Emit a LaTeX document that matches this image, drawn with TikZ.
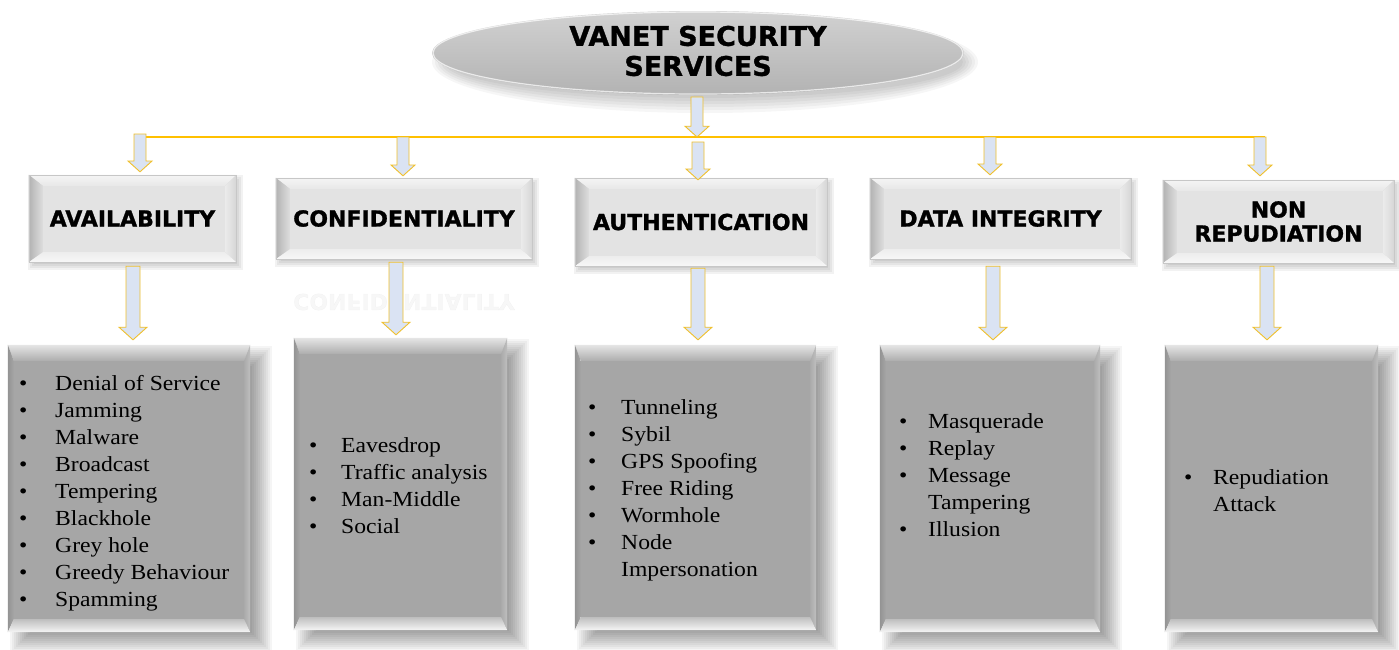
\documentclass[tikz,border=0pt]{standalone}
\usepackage{fontspec}
\setmainfont{Liberation Serif}[FakeStretch=1.1]
\newfontfamily\hdrfont{DejaVu Sans}[BoldFeatures={FakeBold=1.2}]
\usetikzlibrary{calc,backgrounds}

\definecolor{arrowfill}{HTML}{DAE3F3}
\definecolor{arrowedge}{HTML}{F0C02C}
\definecolor{busline}{HTML}{FFC000}
\definecolor{hdrface}{HTML}{E3E3E3}
\definecolor{listface}{HTML}{A6A6A6}

\tikzset{
  hdrbox/.style={rectangle, inner sep=0pt, align=center,
    font=\hdrfont\bfseries\fontsize{22}{24}\selectfont},
  titlebox/.style={inner sep=0pt, align=center,
    font=\hdrfont\bfseries\fontsize{27}{30}\selectfont},
  listbox/.style={rectangle, inner sep=0pt},
  listtext/.style={inner sep=0pt, anchor=base west,
    font=\fontsize{21.5}{27}\selectfont},
  blockarrow/.style={fill=arrowfill, draw=arrowedge, line width=0.9pt},
  bus/.style={draw=busline, line width=1.6pt},
}

% block arrow: #1 shaft half-width (pt), #2 tail point, #3 tip point
\newcommand\blockarrow[3]{%
  \path[blockarrow] let \p1=#2, \p2=#3 in
    ({\x1-#1pt},\y1) -- ({\x1+#1pt},\y1) -- ({\x1+#1pt},{\y2+1.8*#1pt})
    -- ({\x1+2*#1pt},{\y2+1.8*#1pt}) -- (\x1,\y2)
    -- ({\x1-2*#1pt},{\y2+1.8*#1pt}) -- ({\x1-#1pt},{\y2+1.8*#1pt}) -- cycle;}

% soft drop shadow behind a node: #1 node, #2 dx, #3 dy, #4 expansion list, #5 opacity
\newcommand\softshadow[5]{%
  \foreach \e in {#4}{%
    \fill[black, opacity=#5]
      ([shift={({(#2-\e)*1pt},{(-#3-\e)*1pt})}]#1.south west) rectangle
      ([shift={({(#2+\e)*1pt},{(-#3+\e)*1pt})}]#1.north east);}}

% bevelled face: #1 node, #2..#5 insets l,t,r,b
\newcommand\bevelcorners[5]{%
  \coordinate (bo1) at (#1.north west); \coordinate (bo2) at (#1.north east);
  \coordinate (bo3) at (#1.south east); \coordinate (bo4) at (#1.south west);
  \coordinate (bi1) at ([shift={(#2pt,-#3pt)}]#1.north west);
  \coordinate (bi2) at ([shift={(-#4pt,-#3pt)}]#1.north east);
  \coordinate (bi3) at ([shift={(-#4pt,#5pt)}]#1.south east);
  \coordinate (bi4) at ([shift={(#2pt,#5pt)}]#1.south west);}

\newcommand\hdrbevel[1]{%
  \bevelcorners{#1}{14}{11}{11}{10}
  \fill[hdrface] (bi1) rectangle (bi3);
  \shade[top color=black!4, bottom color=black!9] (bo1) -- (bo2) -- (bi2) -- (bi1) -- cycle;
  \shade[left color=black!30, right color=black!13] (bo1) -- (bi1) -- (bi4) -- (bo4) -- cycle;
  \shade[left color=black!8, right color=black!16] (bo2) -- (bo3) -- (bi3) -- (bi2) -- cycle;
  \shade[top color=black!7, bottom color=black!3] (bo4) -- (bi4) -- (bi3) -- (bo3) -- cycle;
  \draw[black!22, line width=.5pt] (bo1) rectangle (bo3);}

\newcommand\listbevel[1]{%
  \bevelcorners{#1}{6}{16}{6}{13}
  \fill[listface] (bi1) rectangle (bi3);
  \shade[top color=black!10, bottom color=black!32] (bo1) -- (bo2) -- (bi2) -- (bi1) -- cycle;
  \shade[left color=black!42, right color=black!35] (bo1) -- (bi1) -- (bi4) -- (bo4) -- cycle;
  \shade[left color=black!33, right color=black!25] (bo2) -- (bo3) -- (bi3) -- (bi2) -- cycle;
  \shade[top color=black!25, bottom color=black!4] (bo4) -- (bi4) -- (bi3) -- (bo3) -- cycle;}

\begin{document}
\begin{tikzpicture}[x=1pt, y=-1pt]
\useasboundingbox (0,0) rectangle (1399,649);

% ---- title ellipse with its shadow
\foreach \e in {0,3,...,15}{
  \fill[black, opacity=0.035] (705,62) ellipse [x radius={(258+\e)*1pt}, y radius={(36+\e)*1pt}];}
\shade[top color=black!18, middle color=black!35, bottom color=black!30]
  (698,53) ellipse [x radius=266pt, y radius=42pt];
\draw[white, opacity=.7, line width=1.2pt] (698,53) ellipse [x radius=265pt, y radius=41pt];
\node[titlebox] (title) at (698,51) {VANET SECURITY\\SERVICES};

% ---- service headers
\node[hdrbox, minimum width=207pt, minimum height=87pt] (avail)  at (132.5,218.5) {AVAILABILITY};
\node[hdrbox, minimum width=256pt, minimum height=81pt] (conf)   at (404,218.5)   {CONFIDENTIALITY};
\node[hdrbox, minimum width=252pt, minimum height=88pt] (auth)   at (701,222)     {AUTHENTICATION};
\node[hdrbox, minimum width=261pt, minimum height=81pt] (data)   at (1000.5,218.5){DATA INTEGRITY};
\node[hdrbox, minimum width=231pt, minimum height=83pt] (nonrep) at (1278.5,221.5){NON\\REPUDIATION};

% faint mirrored reflection under the confidentiality header
\node[hdrbox, yscale=-1, transform shape, opacity=0.03] (confR) at (404,302) {CONFIDENTIALITY};

% ---- attack lists
\node[listbox, minimum width=242pt, minimum height=287pt] (availL)  at (129,488.5) {};
\node[listbox, minimum width=213pt, minimum height=292pt] (confL)   at (400.5,484) {};
\node[listbox, minimum width=241pt, minimum height=285pt] (authL)   at (695.5,487.5) {};
\node[listbox, minimum width=220pt, minimum height=287pt] (dataL)   at (990,488.5) {};
\node[listbox, minimum width=213pt, minimum height=287pt] (nonrepL) at (1271.5,488.5) {};

\node[listtext] (availT) at (19,390) {\begin{tabular}[t]{@{}p{36pt}@{}l@{}}
  \textbullet & Denial of Service\\ \textbullet & Jamming\\ \textbullet & Malware\\
  \textbullet & Broadcast\\ \textbullet & Tempering\\ \textbullet & Blackhole\\
  \textbullet & Grey hole\\ \textbullet & Greedy Behaviour\\ \textbullet & Spamming
  \end{tabular}};
\node[listtext] (confT) at (309,452) {\begin{tabular}[t]{@{}p{32pt}@{}l@{}}
  \textbullet & Eavesdrop\\ \textbullet & Traffic analysis\\ \textbullet & Man-Middle\\
  \textbullet & Social
  \end{tabular}};
\node[listtext] (authT) at (588,414) {\begin{tabular}[t]{@{}p{33pt}@{}l@{}}
  \textbullet & Tunneling\\ \textbullet & Sybil\\ \textbullet & GPS Spoofing\\
  \textbullet & Free Riding\\ \textbullet & Wormhole\\ \textbullet & Node\\
  & Impersonation
  \end{tabular}};
\node[listtext] (dataT) at (899,428) {\begin{tabular}[t]{@{}p{29pt}@{}l@{}}
  \textbullet & Masquerade\\ \textbullet & Replay\\ \textbullet & Message\\
  & Tampering\\ \textbullet & Illusion
  \end{tabular}};
\node[listtext] (nonrepT) at (1184,484) {\begin{tabular}[t]{@{}p{29pt}@{}l@{}}
  \textbullet & Repudiation\\ & Attack
  \end{tabular}};

% ---- page, shadows and bevelled faces behind the text
\begin{scope}[on background layer]
  \fill[white] (0,0) rectangle (1399,649);
  \foreach \n in {avail,conf,auth,data,nonrep}{
    \softshadow{\n}{3}{4}{-2,0,...,4}{0.05}}
  \foreach \n in {availL,confL,authL,dataL,nonrepL}{
    \softshadow{\n}{12}{11}{-10,-8,...,10}{0.04}}
  \foreach \n in {avail,conf,auth,data,nonrep}{
    \hdrbevel{\n}}
  \foreach \n in {availL,confL,authL,dataL,nonrepL}{
    \listbevel{\n}}
\end{scope}

% ---- distribution bar and arrows
\coordinate (busL) at (140,137);
\coordinate (busR) at (1265,137);
\draw[bus] (busL) -- (busR);

\blockarrow{6}{($(title.center)+(-1,46)$)}{(busL -| 697,0)}
\blockarrow{6}{($(busL)+(0,-3)$)}{($(140,0 |- avail.north)+(0,-3)$)}
\blockarrow{6}{(403,0 |- busL)}{($(403,0 |- conf.north)+(0,-2)$)}
\blockarrow{6}{($(698,0 |- busL)+(0,5)$)}{($(698,0 |- auth.north)+(0,2)$)}
\blockarrow{6}{(990,0 |- busL)}{($(990,0 |- data.north)+(0,-3)$)}
\blockarrow{6}{(1260,0 |- busL)}{($(1260,0 |- nonrep.north)+(0,-4)$)}

\blockarrow{7}{($(133,0 |- avail.south)+(0,4)$)}{($(133,0 |- availL.north)+(0,-5)$)}
\blockarrow{7}{($(396,0 |- conf.south)+(0,3)$)}{($(396,0 |- confL.north)+(0,-3)$)}
\blockarrow{7}{($(698,0 |- auth.south)+(0,2)$)}{($(698,0 |- authL.north)+(0,-5)$)}
\blockarrow{7}{($(993,0 |- data.south)+(0,7)$)}{($(993,0 |- dataL.north)+(0,-5)$)}
\blockarrow{7}{($(1267,0 |- nonrep.south)+(0,3)$)}{($(1267,0 |- nonrepL.north)+(0,-5)$)}
\end{tikzpicture}
\end{document}
